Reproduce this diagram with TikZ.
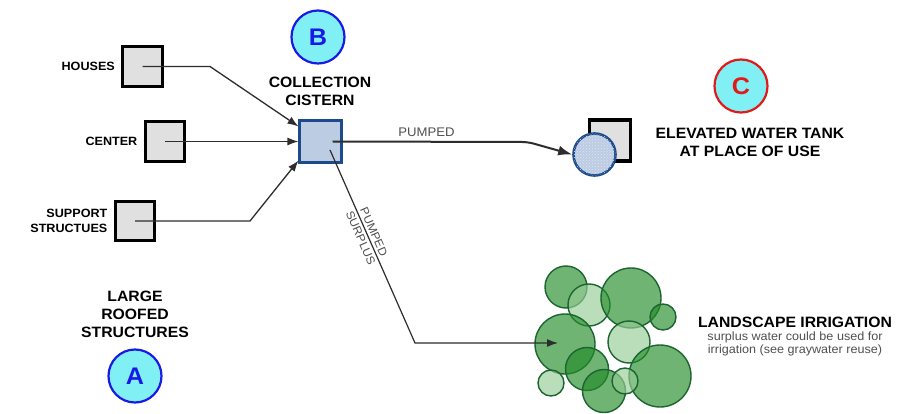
\documentclass[tikz,border=0pt]{standalone}
\usepackage{fontspec}
\setmainfont[FakeStretch=1.05]{Liberation Sans}
\usetikzlibrary{arrows.meta,patterns,positioning}

\definecolor{boxgray}{RGB}{224,224,224}
\definecolor{cisfill}{RGB}{188,204,226}
\definecolor{cisedge}{RGB}{28,74,138}
\definecolor{tankdot}{RGB}{220,228,242}
\definecolor{badgefill}{RGB}{128,240,245}
\definecolor{badgeblue}{RGB}{26,26,230}
\definecolor{badgered}{RGB}{225,25,25}
\definecolor{wire}{RGB}{45,45,45}
\definecolor{treemid}{RGB}{34,140,40}
\definecolor{treelight}{RGB}{150,205,150}
\definecolor{treeedge}{RGB}{28,100,48}
\definecolor{labelgray}{RGB}{80,80,80}

\tikzset{
  graybox/.style={draw=black, line width=3.4pt, fill=boxgray, minimum size=39.5pt, inner sep=0pt},
  cistern/.style={draw=cisedge, line width=2.6pt, fill=cisfill, minimum size=41.5pt, inner sep=0pt},
  badge/.style={circle, line width=2.2pt, fill=badgefill, minimum size=53pt, inner sep=0pt,
    font=\fontsize{24}{24}\selectfont\bfseries},
  smalllabel/.style={font=\fontsize{12}{15}\selectfont\bfseries, align=right, inner sep=0pt},
  biglabel/.style={font=\fontsize{15}{18}\selectfont\bfseries, align=center, inner sep=0pt},
  flowlabel/.style={font=\fontsize{11.5}{12}\selectfont, text=labelgray},
  tipA/.tip={Latex[length=11pt,width=8pt]},
  tipB/.tip={Latex[length=14pt,width=10pt]},
  feed/.style={draw=wire, line width=1.3pt, -tipA},
  pump/.style={draw=wire, line width=2pt, -tipB},
  treemidc/.style={circle, draw=treeedge, line width=1.4pt, fill=treemid, fill opacity=0.65, draw opacity=1, inner sep=0pt},
  treelightc/.style={circle, draw=treeedge, line width=1.4pt, fill=treelight, fill opacity=0.65, draw opacity=1, inner sep=0pt},
}

\begin{document}
\begin{tikzpicture}[x=1pt, y=-1pt]
\useasboundingbox[fill=white] (0,0) rectangle (897,414);

% badges
\node[badge, draw=badgeblue, text=badgeblue] (bA) at (135,376) {A};
\node[badge, draw=badgeblue, text=badgeblue] (bB) at (318,37) {B};
\node[badge, draw=badgered, text=badgered] (bC) at (741,86) {C};

% source buildings
\node[graybox] (hou) at (142.5,66.5) {};
\node[graybox] (cen) at (165,141.5) {};
\node[graybox] (sup) at (135,221) {};
\node[smalllabel, left=6pt of hou] (houL) {HOUSES};
\node[smalllabel, left=6pt of cen] (cenL) {CENTER};
\node[smalllabel, left=6pt of sup] (supL) {SUPPORT\\STRUCTUES};

\node[biglabel] (roofL) at (135,314) {LARGE\\ROOFED\\STRUCTURES};

% collection cistern
\node[cistern] (cis) at (320.5,141.5) {};
\node[biglabel] (cisL) at (320,91) {COLLECTION\\CISTERN};

% elevated tank
\node[graybox, minimum size=41pt] (tsq) at (610,140.5) {};
\node[circle, draw=cisedge, line width=2.6pt, fill=cisfill, minimum size=42pt, inner sep=0pt,
      postaction={pattern=crosshatch dots, pattern color=tankdot}] (tank) at (594.5,154.5) {};
\node[biglabel] (tankL) at (750,142) {ELEVATED WATER TANK\\AT PLACE OF USE};

% landscape
\foreach \n/\st/\cx/\cy/\r in {
    t1/treemidc/566/287/21, t2/treelightc/589/305/21, t3/treemidc/631/298/30,
    t4/treemidc/663/317/13, t5/treemidc/565/344/30, t6/treelightc/629/342/21,
    t7/treemidc/587/369/21.5, t8/treemidc/660/376/31, t9/treelightc/551/383/13,
    t10/treemidc/604/391/21.5, t11/treelightc/625/381/13}
  \node[\st, minimum size=2*\r pt] (\n) at (\cx,\cy) {};

\node[font=\fontsize{15}{18}\selectfont\bfseries, inner sep=0pt] (irrL) at (795,322) {LANDSCAPE IRRIGATION};
\node[font=\fontsize{12}{12.7}\selectfont, text=labelgray, align=center, inner sep=0pt, below=4pt of irrL]
  (irrS) {surplus water could be used for\\irrigation (see graywater reuse)};

% inflow to the cistern
\draw[feed] (hou.center) -- (210,66.5) -- ([yshift=-7pt]cis.north west);
\draw[feed] (cen.center) -- (cis.west);
\draw[feed] (sup.center) -- (250,221) -- ([yshift=3pt]cis.south west);

% pumped to the elevated tank
\coordinate (pbend) at (528,142);
\draw[pump, rounded corners=6pt] ([xshift=12pt]cis.center) -- (pbend) -- (tank.west);
\node[flowlabel, font=\fontsize{12.5}{13}\selectfont] (pumpL) at (426.5,132) {PUMPED};

% surplus to irrigation
\coordinate (sp0) at (330,150);
\coordinate (sp1) at (415,343);
\coordinate (irr) at (558,343);
\draw[draw=wire, line width=1.2pt, -tipA]
  (sp0) -- node[pos=0.44, sloped, above, flowlabel, inner sep=2.5pt] {PUMPED}
           node[pos=0.44, sloped, below, flowlabel, inner sep=2.5pt] {SURPLUS}
  (sp1) -- (irr);
\end{tikzpicture}
\end{document}
